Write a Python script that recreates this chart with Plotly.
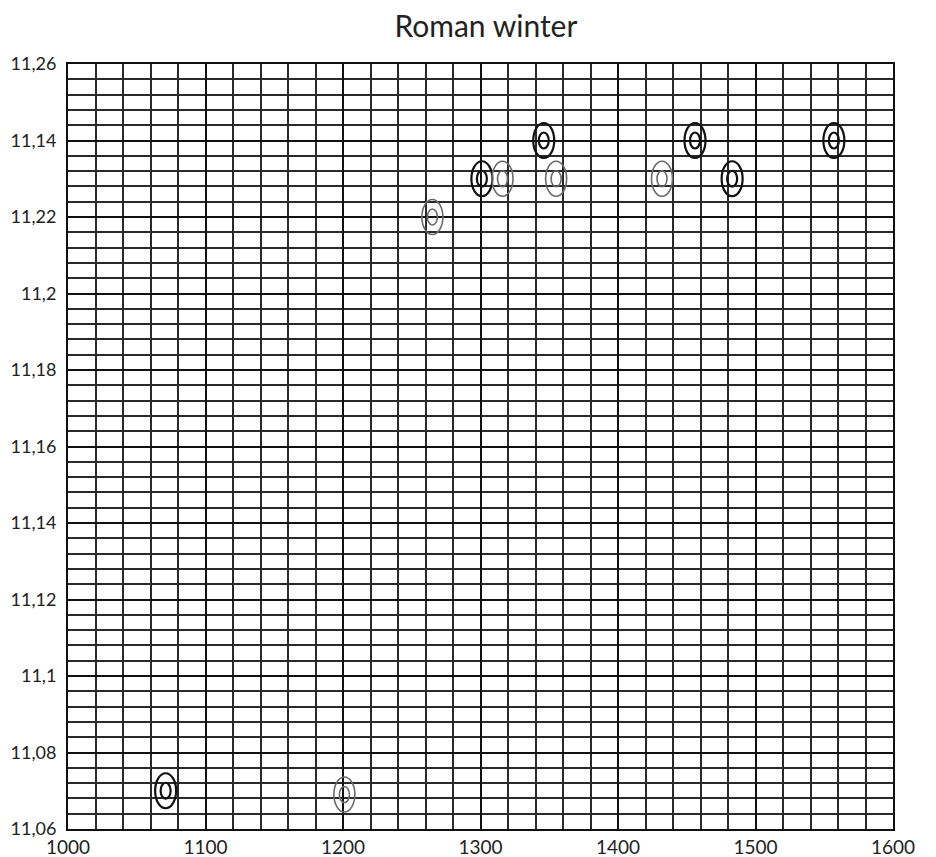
import plotly.graph_objects as go

# values
black_years = [1071, 1301, 1346, 1456, 1483, 1557]
black_vals = [11.07, 11.23, 11.24, 11.24, 11.23, 11.24]
gray_years = [1201, 1265, 1316, 1355, 1432]
gray_vals = [11.069, 11.22, 11.23, 11.23, 11.23]

y_ticks = [11.06, 11.08, 11.10, 11.12, 11.14, 11.16, 11.18, 11.20, 11.22, 11.24, 11.26]
y_labels = ["11,06", "11,08", "11,1", "11,12", "11,14", "11,16", "11,18", "11,2", "11,22", "11,14", "11,26"]

FONT = "Lato"

fig = go.Figure()
for xs, ys, col in [(black_years, black_vals, "#111111"), (gray_years, gray_vals, "#666666")]:
    fig.add_trace(
        go.Scatter(x=xs, y=ys, mode="markers", marker={"color": col, "opacity": 0, "size": 20},
                   showlegend=False, hovertemplate="%{x}: %{y}<extra></extra>")
    )


def ring_shapes(xs, ys, col, width):
    out = []
    for x, y in zip(xs, ys):
        for hw, hh in [(10.5, 17.5), (5, 8)]:
            out.append(dict(
                type="circle", xref="x", yref="y",
                xsizemode="pixel", ysizemode="pixel",
                xanchor=x, yanchor=y,
                x0=-hw, x1=hw, y0=-hh, y1=hh,
                line={"color": col, "width": width},
                layer="above",
            ))
    return out


shapes = ring_shapes(black_years, black_vals, "#111111", 2.2) + ring_shapes(gray_years, gray_vals, "#6a6a6a", 1.6)

# the page body adds an 8px offset, so the figure is 8px smaller
fig.update_layout(
    width=928, height=849,
    margin={"l": 60, "r": 43, "t": 56, "b": 28},
    paper_bgcolor="white", plot_bgcolor="white",
    font={"family": FONT, "color": "#222222", "size": 19},
    title={"text": "Roman winter", "x": 0.515, "xanchor": "center", "y": 0.978, "yanchor": "middle",
           "font": {"size": 30, "family": FONT, "color": "#222222"}},
    shapes=shapes,
)

fig.update_xaxes(
    range=[1000, 1600], tickmode="linear", tick0=1000, dtick=100,
    showgrid=True, gridcolor="#111111", gridwidth=2,
    minor={"tickmode": "linear", "tick0": 1000, "dtick": 20, "showgrid": True,
           "gridcolor": "#2a2a2a", "gridwidth": 1.5},
    showline=True, linecolor="#111111", linewidth=2, mirror=True,
    ticks="", ticklabelstandoff=0, zeroline=False, automargin=False,
)
fig.update_yaxes(
    range=[11.06, 11.26], tickmode="array", tickvals=y_ticks, ticktext=y_labels,
    tickfont={"size": 18},
    showgrid=True, gridcolor="#111111", gridwidth=2,
    minor={"tickmode": "linear", "tick0": 11.06, "dtick": 0.004, "showgrid": True,
           "gridcolor": "#2a2a2a", "gridwidth": 1.5},
    showline=True, linecolor="#111111", linewidth=2, mirror=True,
    ticks="", ticklabelstandoff=6, zeroline=False, automargin=False,
)

fig.write_html("out.html")
